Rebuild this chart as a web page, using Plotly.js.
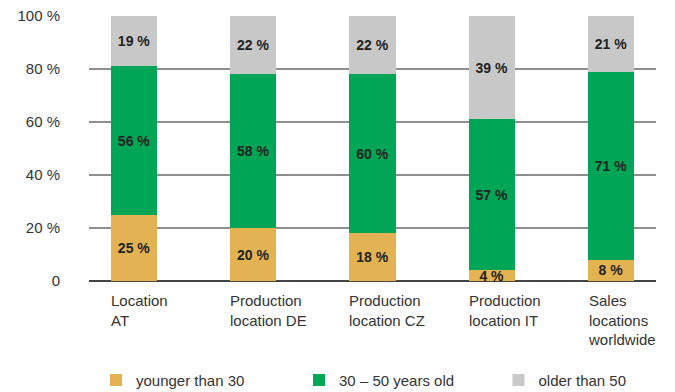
<!DOCTYPE html>
<html>
<head>
<meta charset="utf-8">
<script src="https://cdn.plot.ly/plotly-3.0.1.min.js"></script>
<style>
  html, body { margin: 0; padding: 0; background: #fff; }
  #chart { width: 675px; height: 392px; }
</style>
</head>
<body>
<div id="chart"></div>
<script>
// Age structure of the workforce by location (share in %)
const categories = [
  "Location<br>AT",
  "Production<br>location DE",
  "Production<br>location CZ",
  "Production<br>location IT",
  "Sales<br>locations<br>worldwide"
];
const younger = [25, 20, 18, 4, 8];
const middle  = [56, 58, 60, 57, 71];
const older   = [19, 22, 22, 39, 21];

const seriesNames = ["younger than 30", "30 – 50 years old", "older than 50"];
const seriesColors = ["#E3B253", "#00A555", "#C8C8C8"];

const yTickVals = [0, 20, 40, 60, 80, 100];
const yTickText = ["0", "20 %", "40 %", "60 %", "80 %", "100 %"];

const FONT = "'Liberation Sans', Arial, Helvetica, sans-serif";
const BAR_WIDTH = 0.387;
const idx = categories.map((_, i) => i);

// each series gets its own legend box so the three keys can be spaced freely
const legendIds = ["legend", "legend2", "legend3"];
const legendX = [0.1422, 0.4430, 0.7385];

function makeTrace(values, k) {
  return {
    type: "bar",
    x: idx,
    y: values,
    name: seriesNames[k],
    legend: legendIds[k],
    width: BAR_WIDTH,
    marker: { color: seriesColors[k], line: { width: 0 } },
    text: values.map(v => v + " %"),
    textposition: "inside",
    insidetextanchor: "middle",
    constraintext: "none",
    textangle: 0,
    textfont: { family: FONT, size: 14, color: "#222", weight: "bold" },
    hoverinfo: "skip"
  };
}

const data = [makeTrace(younger, 0), makeTrace(middle, 1), makeTrace(older, 2)];

// Category labels sit left-aligned under each bar
const catAnnotations = categories.map((c, i) => ({
  x: i - BAR_WIDTH / 2,
  xref: "x",
  xanchor: "left",
  xshift: -2,
  y: 0,
  yref: "paper",
  yanchor: "top",
  yshift: -9,
  text: c,
  align: "left",
  showarrow: false,
  font: { family: FONT, size: 15, color: "#333" }
}));

function legendBox(k) {
  return {
    orientation: "h",
    xref: "container",
    yref: "container",
    x: legendX[k],
    xanchor: "left",
    y: 0.072,
    yanchor: "top",
    bgcolor: "rgba(0,0,0,0)",
    font: { family: FONT, size: 15, color: "#333" }
  };
}

const layout = {
  width: 675,
  height: 392,
  margin: { l: 89, r: 19, t: 16, b: 111 },
  paper_bgcolor: "#fff",
  plot_bgcolor: "#fff",
  barmode: "stack",
  bargap: 0,
  font: { family: FONT, size: 15, color: "#333" },
  xaxis: {
    range: [-0.378, 4.378],
    showticklabels: false,
    showgrid: false,
    zeroline: false,
    showline: false,
    ticks: ""
  },
  yaxis: {
    range: [0, 100],
    tickvals: yTickVals,
    ticktext: yTickText,
    showgrid: true,
    gridcolor: "#8f8f8f",
    gridwidth: 1.5,
    zeroline: true,
    zerolinecolor: "#444",
    zerolinewidth: 1.5,
    ticks: "",
    ticklabelstandoff: 28,
    tickfont: { family: FONT, size: 15, color: "#333" }
  },
  legend: legendBox(0),
  legend2: legendBox(1),
  legend3: legendBox(2),
  annotations: catAnnotations,
  showlegend: true
};

Plotly.newPlot("chart", data, layout, { displayModeBar: false, staticPlot: true });
</script>
</body>
</html>
